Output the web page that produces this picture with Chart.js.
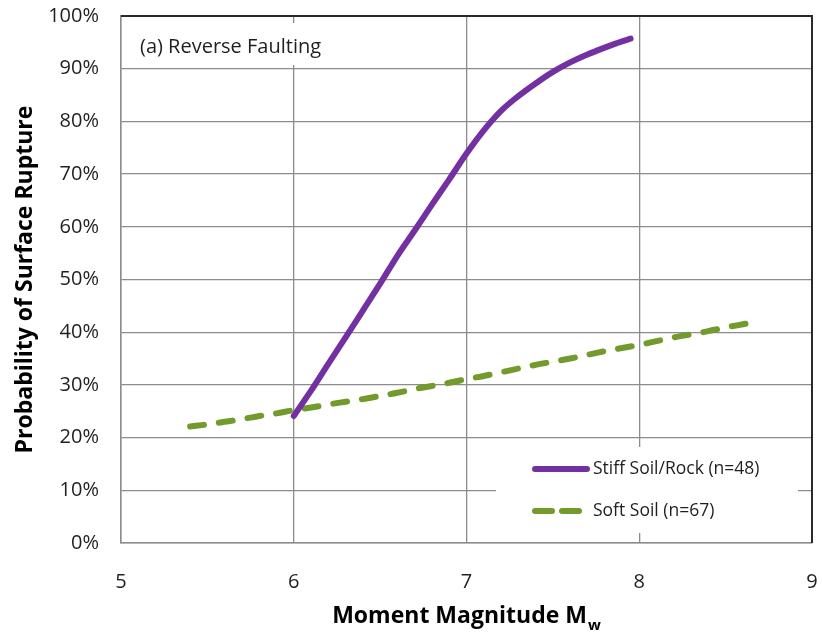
<!DOCTYPE html>
<html>
<head>
<meta charset="utf-8">
<script src="https://cdn.jsdelivr.net/npm/chart.js@4.4.1/dist/chart.umd.min.js"></script>
<style>
  html, body { margin: 0; padding: 0; background: #ffffff; }
  canvas { display: block; }
</style>
</head>
<body>
<canvas id="chart" width="822" height="635"></canvas>
<script>
// Stiff soil / rock curve: magnitude and probability of surface rupture (%)
const magnitudeStiff = [6.0, 6.1, 6.2, 6.3, 6.4, 6.5, 6.6, 6.7, 6.8, 6.9, 7.0, 7.1, 7.2, 7.3, 7.4, 7.5, 7.6, 7.7, 7.8, 7.9, 7.95];
const probabilityStiff = [24.1, 28.9, 34.0, 39.0, 44.1, 49.2, 54.5, 59.3, 64.2, 69.0, 73.9, 78.3, 82.0, 84.8, 87.2, 89.4, 91.2, 92.7, 94.0, 95.2, 95.7];

// Soft soil curve
const magnitudeSoft = [5.4, 5.5, 5.6, 5.7, 5.8, 5.9, 6.0, 6.1, 6.2, 6.3, 6.4, 6.5, 6.6, 6.7, 6.8, 6.9, 7.0, 7.1, 7.2, 7.3, 7.4, 7.5, 7.6, 7.7, 7.8, 7.9, 8.0, 8.1, 8.2, 8.3, 8.4, 8.5, 8.6, 8.7];
const probabilitySoft = [22.1, 22.5, 23.0, 23.5, 24.1, 24.6, 25.2, 25.7, 26.3, 26.8, 27.3, 27.9, 28.5, 29.2, 29.8, 30.4, 31.1, 31.7, 32.4, 33.1, 33.8, 34.4, 35.0, 35.7, 36.4, 37.0, 37.6, 38.3, 39.0, 39.6, 40.2, 40.9, 41.5, 42.1];

const xTickValues = [5, 6, 7, 8, 9];
const yTickValues = [0, 10, 20, 30, 40, 50, 60, 70, 80, 90, 100];

const seriesNames = ['Stiff Soil/Rock (n=48)', 'Soft Soil (n=67)'];
const panelLabel = '(a) Reverse Faulting';
const xTitleMain = 'Moment Magnitude M';
const xTitleSub = 'w';
const yTitle = 'Probability of Surface Rupture';

const PURPLE = '#7330a3';
const GREEN = '#739a2c';
const GRID = '#8c8c8c';
const FRAME_DARK = '#2a2a2a';
const TEXT = '#1f1f1f';
const FONT = '"Open Sans", Lato, sans-serif';

const toPoints = (xs, ys) => xs.map((x, i) => ({ x: x, y: ys[i] }));

// Panel label, in-plot legend, heavy top/right frame and axis titles
const decorations = {
  id: 'decorations',
  beforeDatasetsDraw(chart) {
    const ctx = chart.ctx;
    ctx.save();
    ctx.fillStyle = '#ffffff';
    // white backing behind the panel label and the legend
    ctx.fillRect(131, 23, 209, 42);
    ctx.fillRect(496, 447, 302, 86);
    ctx.fillStyle = TEXT;
    ctx.font = '20px ' + FONT;
    ctx.textAlign = 'left';
    ctx.textBaseline = 'middle';
    ctx.fillText(panelLabel, 140, 47);
    ctx.restore();
  },
  afterDatasetsDraw(chart) {
    const ctx = chart.ctx;
    const ds = chart.data.datasets;
    const rows = [469, 511];
    ctx.save();
    ds.forEach((d, i) => {
      const y = rows[i];
      ctx.beginPath();
      ctx.strokeStyle = d.borderColor;
      ctx.lineWidth = d.borderWidth;
      ctx.lineCap = 'round';
      ctx.setLineDash(d.borderDash ? [17, 10] : []);
      ctx.moveTo(535, y);
      ctx.lineTo(587, y);
      ctx.stroke();
      ctx.setLineDash([]);
      ctx.fillStyle = TEXT;
      ctx.font = '17.5px ' + FONT;
      ctx.textAlign = 'left';
      ctx.textBaseline = 'middle';
      ctx.fillText(d.label, 593, y);
    });
    ctx.restore();
  },
  afterDraw(chart) {
    const ctx = chart.ctx;
    const a = chart.chartArea;
    ctx.save();
    // dark top and right frame
    ctx.strokeStyle = FRAME_DARK;
    ctx.lineWidth = 2;
    ctx.beginPath();
    ctx.moveTo(a.left, a.top);
    ctx.lineTo(a.right, a.top);
    ctx.lineTo(a.right, a.bottom);
    ctx.stroke();

    // y axis title
    ctx.fillStyle = '#000000';
    ctx.font = 'bold 23px ' + FONT;
    ctx.textAlign = 'center';
    ctx.textBaseline = 'middle';
    ctx.translate(25, (a.top + a.bottom) / 2);
    ctx.rotate(-Math.PI / 2);
    ctx.fillText(yTitle, 0, 0);
    ctx.setTransform(1, 0, 0, 1, 0, 0);

    // x axis title with subscript
    const mainFont = 'bold 23px ' + FONT;
    const subFont = 'bold 15px ' + FONT;
    ctx.font = mainFont;
    const w1 = ctx.measureText(xTitleMain).width;
    ctx.font = subFont;
    const w2 = ctx.measureText(xTitleSub).width;
    const x0 = (a.left + a.right) / 2 - (w1 + w2 + 1) / 2;
    ctx.textAlign = 'left';
    ctx.textBaseline = 'alphabetic';
    ctx.font = mainFont;
    ctx.fillText(xTitleMain, x0, 623);
    ctx.font = subFont;
    ctx.fillText(xTitleSub, x0 + w1 + 1, 630);
    ctx.restore();
  }
};

new Chart(document.getElementById('chart'), {
  type: 'line',
  data: {
    datasets: [
      {
        label: seriesNames[0],
        data: toPoints(magnitudeStiff, probabilityStiff),
        borderColor: PURPLE,
        backgroundColor: PURPLE,
        borderWidth: 6,
        borderCapStyle: 'round',
        borderJoinStyle: 'round',
        cubicInterpolationMode: 'monotone',
        pointRadius: 0,
        fill: false
      },
      {
        label: seriesNames[1],
        data: toPoints(magnitudeSoft, probabilitySoft),
        borderColor: GREEN,
        backgroundColor: GREEN,
        borderWidth: 6,
        borderDash: [14, 15],
        borderCapStyle: 'round',
        borderJoinStyle: 'round',
        cubicInterpolationMode: 'monotone',
        pointRadius: 0,
        fill: false
      }
    ]
  },
  options: {
    responsive: false,
    animation: false,
    events: [],
    layout: { padding: { top: 16, right: 10, left: 0, bottom: 0 } },
    plugins: {
      legend: { display: false },
      tooltip: { enabled: false },
      title: { display: false }
    },
    scales: {
      x: {
        type: 'linear',
        min: 5,
        max: 9,
        afterBuildTicks(scale) { scale.ticks = xTickValues.map(v => ({ value: v })); },
        afterFit(scale) {
          scale.height = 92;
          scale.paddingLeft = 0;
          scale.paddingRight = 0;
        },
        grid: { color: GRID, lineWidth: 1.3, drawTicks: false },
        border: { display: true, color: GRID, width: 1.5 },
        ticks: {
          padding: 27,
          color: TEXT,
          font: { family: FONT, size: 20 },
          maxRotation: 0
        }
      },
      y: {
        type: 'linear',
        min: 0,
        max: 100,
        afterBuildTicks(scale) { scale.ticks = yTickValues.map(v => ({ value: v })); },
        afterFit(scale) {
          scale.width = 121;
          scale.paddingTop = 0;
          scale.paddingBottom = 0;
        },
        grid: { color: GRID, lineWidth: 1.3, drawTicks: false },
        border: { display: true, color: GRID, width: 1.5 },
        ticks: {
          padding: 22,
          color: TEXT,
          font: { family: FONT, size: 20 },
          callback: v => v + '%'
        }
      }
    }
  },
  plugins: [decorations]
});
</script>
</body>
</html>
